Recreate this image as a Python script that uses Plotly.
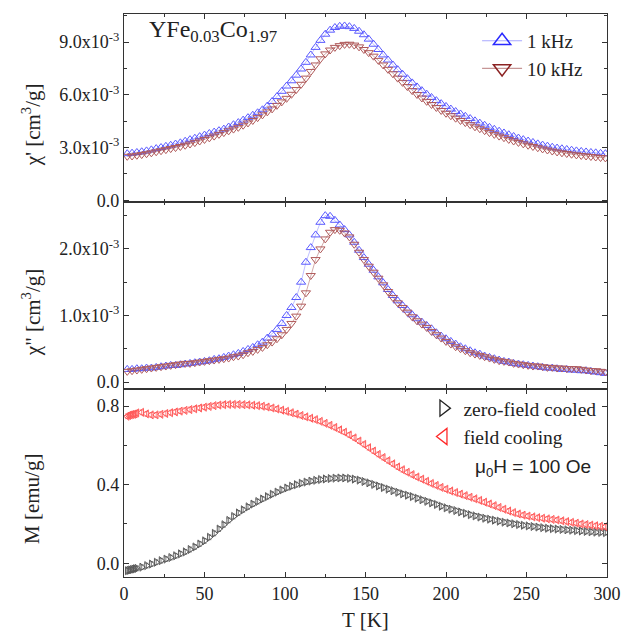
import plotly.graph_objects as go

# ---------------- data ----------------
T_ac = list(range(2, 300, 3))  # temperature grid for AC susceptibility (K)

chi1_1k = [2.65, 2.68, 2.72, 2.76, 2.81, 2.87, 2.94, 3.00, 3.07, 3.13,
           3.20, 3.27, 3.36, 3.45, 3.53, 3.62, 3.71, 3.80, 3.88, 3.96,
           4.05, 4.17, 4.30, 4.42, 4.56, 4.70, 4.84, 4.98, 5.15, 5.36,
           5.62, 5.90, 6.20, 6.50, 6.80, 7.12, 7.47, 7.85, 8.27, 8.70,
           9.10, 9.45, 9.68, 9.83, 9.90, 9.92, 9.88, 9.78, 9.62, 9.42,
           9.17, 8.88, 8.58, 8.27, 7.98, 7.70, 7.43, 7.17, 6.92, 6.68,
           6.45, 6.24, 6.04, 5.85, 5.67, 5.50, 5.34, 5.19, 5.05, 4.91,
           4.78, 4.65, 4.52, 4.39, 4.27, 4.15, 4.04, 3.93, 3.83, 3.73,
           3.63, 3.54, 3.45, 3.37, 3.29, 3.21, 3.14, 3.08, 3.02, 2.97,
           2.93, 2.89, 2.85, 2.81, 2.78, 2.75, 2.72, 2.70, 2.67, 2.65]

chi1_10k = [2.50, 2.52, 2.56, 2.60, 2.65, 2.70, 2.76, 2.82, 2.88, 2.94,
            3.00, 3.06, 3.13, 3.20, 3.28, 3.37, 3.46, 3.55, 3.65, 3.75,
            3.85, 3.95, 4.05, 4.15, 4.27, 4.40, 4.54, 4.70, 4.86, 5.03,
            5.20, 5.40, 5.60, 5.80, 6.03, 6.30, 6.60, 6.95, 7.33, 7.70,
            8.05, 8.33, 8.55, 8.70, 8.80, 8.87, 8.88, 8.83, 8.73, 8.58,
            8.40, 8.20, 7.96, 7.70, 7.45, 7.20, 6.95, 6.71, 6.47, 6.24,
            6.02, 5.82, 5.63, 5.45, 5.28, 5.11, 4.95, 4.81, 4.67, 4.54,
            4.42, 4.30, 4.18, 4.07, 3.96, 3.85, 3.75, 3.65, 3.56, 3.46,
            3.37, 3.29, 3.21, 3.13, 3.06, 2.99, 2.92, 2.86, 2.80, 2.75,
            2.70, 2.66, 2.62, 2.58, 2.55, 2.52, 2.49, 2.46, 2.43, 2.41]

chi2_1k = [0.19, 0.19, 0.20, 0.20, 0.21, 0.21, 0.22, 0.23, 0.24, 0.25,
           0.25, 0.26, 0.27, 0.28, 0.29, 0.30, 0.31, 0.32, 0.34, 0.35,
           0.37, 0.39, 0.41, 0.43, 0.46, 0.49, 0.52, 0.56, 0.60, 0.66,
           0.72, 0.79, 0.88, 1.00, 1.12, 1.27, 1.50, 1.80, 2.02, 2.21,
           2.40, 2.50, 2.49, 2.43, 2.36, 2.29, 2.21, 2.10, 1.98, 1.87,
           1.77, 1.68, 1.58, 1.49, 1.39, 1.30, 1.22, 1.15, 1.08, 1.01,
           0.95, 0.90, 0.85, 0.80, 0.74, 0.69, 0.65, 0.61, 0.57, 0.53,
           0.50, 0.47, 0.44, 0.42, 0.39, 0.37, 0.35, 0.33, 0.31, 0.30,
           0.28, 0.27, 0.26, 0.25, 0.24, 0.23, 0.22, 0.21, 0.21, 0.20,
           0.19, 0.19, 0.18, 0.18, 0.17, 0.17, 0.16, 0.15, 0.14, 0.13]

chi2_10k = [0.16, 0.17, 0.18, 0.19, 0.20, 0.21, 0.22, 0.23, 0.24, 0.25,
            0.26, 0.27, 0.28, 0.28, 0.29, 0.30, 0.31, 0.32, 0.33, 0.34,
            0.35, 0.36, 0.38, 0.39, 0.41, 0.44, 0.46, 0.49, 0.52, 0.56,
            0.60, 0.65, 0.71, 0.79, 0.88, 0.99, 1.14, 1.34, 1.60, 1.84,
            2.00, 2.15, 2.25, 2.29, 2.28, 2.24, 2.18, 2.07, 1.95, 1.84,
            1.74, 1.65, 1.56, 1.46, 1.36, 1.27, 1.19, 1.12, 1.05, 0.98,
            0.92, 0.87, 0.82, 0.76, 0.71, 0.66, 0.61, 0.57, 0.53, 0.50,
            0.47, 0.44, 0.42, 0.40, 0.38, 0.36, 0.34, 0.32, 0.31, 0.30,
            0.28, 0.27, 0.26, 0.25, 0.24, 0.24, 0.23, 0.22, 0.22, 0.21,
            0.21, 0.20, 0.20, 0.20, 0.19, 0.18, 0.17, 0.17, 0.16, 0.15]

T_m = [2, 3, 4, 5, 6, 7, 8] + list(range(11, 300, 3))

M_fc = [0.748, 0.752, 0.755, 0.757, 0.758, 0.760, 0.765,
        0.768, 0.760, 0.755, 0.755, 0.758, 0.762, 0.766, 0.770, 0.774, 0.778,
        0.782, 0.786, 0.790, 0.794, 0.798, 0.802, 0.805, 0.807, 0.808, 0.808,
        0.808, 0.807, 0.806, 0.804, 0.802, 0.799, 0.795, 0.790, 0.785, 0.779,
        0.773, 0.766, 0.759, 0.752, 0.745, 0.738, 0.731, 0.722, 0.712, 0.702,
        0.691, 0.679, 0.667, 0.653, 0.638, 0.622, 0.605, 0.588, 0.571, 0.554,
        0.538, 0.522, 0.506, 0.490, 0.476, 0.463, 0.451, 0.439, 0.428, 0.417,
        0.406, 0.396, 0.386, 0.377, 0.368, 0.360, 0.352, 0.344, 0.336, 0.328,
        0.320, 0.311, 0.302, 0.293, 0.284, 0.275, 0.266, 0.258, 0.251, 0.245,
        0.240, 0.236, 0.232, 0.229, 0.226, 0.223, 0.220, 0.216, 0.212, 0.208,
        0.204, 0.200, 0.197, 0.194, 0.191, 0.188, 0.186]

M_zfc = [-0.038, -0.036, -0.034, -0.032, -0.030, -0.028, -0.026,
         -0.020, -0.012, -0.004, 0.005, 0.013, 0.021, 0.029, 0.038, 0.048, 0.058,
         0.070, 0.083, 0.098, 0.114, 0.132, 0.152, 0.174, 0.196, 0.218, 0.238,
         0.256, 0.272, 0.287, 0.301, 0.314, 0.327, 0.339, 0.351, 0.362, 0.373,
         0.383, 0.392, 0.400, 0.407, 0.413, 0.418, 0.422, 0.426, 0.429, 0.431,
         0.433, 0.434, 0.434, 0.432, 0.428, 0.423, 0.416, 0.409, 0.401, 0.393,
         0.385, 0.377, 0.369, 0.361, 0.353, 0.346, 0.339, 0.331, 0.323, 0.315,
         0.307, 0.299, 0.290, 0.282, 0.275, 0.268, 0.261, 0.254, 0.247, 0.241,
         0.235, 0.229, 0.224, 0.219, 0.214, 0.209, 0.205, 0.201, 0.197, 0.193,
         0.190, 0.187, 0.184, 0.181, 0.178, 0.176, 0.174, 0.172, 0.170, 0.168,
         0.166, 0.164, 0.162, 0.160, 0.158, 0.157, 0.156]

M_err = 0.012

# ---------------- styling ----------------
SERIF = "Liberation Serif"
SANS = "Liberation Sans"
AX = "#333333"

BLUE = "#5a5aff"
BLUE_LINE = "rgba(110,110,255,0.55)"
BROWN = "#b05a5a"
BROWN_LINE = "rgba(150,60,60,0.55)"
RED = "#ff5a5a"
GRAY = "#5a5a5a"

fig = go.Figure()

# panel 1: chi'
fig.add_trace(go.Scatter(x=T_ac, y=chi1_1k, mode="lines+markers", xaxis="x3", yaxis="y3",
                         showlegend=False,
                         line=dict(color=BLUE_LINE, width=0.8),
                         marker=dict(symbol="triangle-up-open", size=8, color=BLUE,
                                     line=dict(width=1, color=BLUE))))
fig.add_trace(go.Scatter(x=T_ac, y=chi1_10k, mode="lines+markers", xaxis="x3", yaxis="y3",
                         showlegend=False,
                         line=dict(color=BROWN_LINE, width=0.8),
                         marker=dict(symbol="triangle-down-open", size=8, color=BROWN,
                                     line=dict(width=1, color=BROWN))))
# panel 2: chi''
fig.add_trace(go.Scatter(x=T_ac, y=chi2_1k, mode="lines+markers", xaxis="x2", yaxis="y2",
                         showlegend=False,
                         line=dict(color=BLUE_LINE, width=0.8),
                         marker=dict(symbol="triangle-up-open", size=8, color=BLUE,
                                     line=dict(width=1, color=BLUE))))
fig.add_trace(go.Scatter(x=T_ac, y=chi2_10k, mode="lines+markers", xaxis="x2", yaxis="y2",
                         showlegend=False,
                         line=dict(color=BROWN_LINE, width=0.8),
                         marker=dict(symbol="triangle-down-open", size=8, color=BROWN,
                                     line=dict(width=1, color=BROWN))))
# panel 3: M
fig.add_trace(go.Scatter(x=T_m, y=M_zfc, mode="markers", xaxis="x", yaxis="y",
                         showlegend=False,
                         error_y=dict(type="constant", value=M_err, color=GRAY, thickness=0.8, width=2),
                         marker=dict(symbol="triangle-right-open", size=7, color=GRAY,
                                     line=dict(width=1, color=GRAY))))
fig.add_trace(go.Scatter(x=T_m, y=M_fc, mode="markers", xaxis="x", yaxis="y",
                         showlegend=False,
                         error_y=dict(type="constant", value=M_err, color=RED, thickness=0.8, width=2),
                         marker=dict(symbol="triangle-left-open", size=7, color=RED,
                                     line=dict(width=1, color=RED))))

# legend entries
fig.add_trace(go.Scatter(x=[None], y=[None], mode="lines+markers", name="1 kHz", legend="legend",
                         xaxis="x3", yaxis="y3",
                         line=dict(color="rgba(110,110,255,0.6)", width=1.2),
                         marker=dict(symbol="triangle-up-open", size=15, color="#2a2aff",
                                     line=dict(width=1.5, color="#2a2aff"))))
fig.add_trace(go.Scatter(x=[None], y=[None], mode="lines+markers", name="10 kHz", legend="legend",
                         xaxis="x3", yaxis="y3",
                         line=dict(color="rgba(160,80,80,0.6)", width=1.2),
                         marker=dict(symbol="triangle-down-open", size=15, color="#8b2222",
                                     line=dict(width=1.5, color="#8b2222"))))
fig.add_trace(go.Scatter(x=[None], y=[None], mode="markers", name="zero-field cooled", legend="legend2",
                         marker=dict(symbol="triangle-right-open", size=14, color="#222222",
                                     line=dict(width=1.3, color="#222222"))))
fig.add_trace(go.Scatter(x=[None], y=[None], mode="markers", name="field cooling", legend="legend2",
                         marker=dict(symbol="triangle-left-open", size=14, color="#ff2a2a",
                                     line=dict(width=1.3, color="#ff2a2a"))))

TICKFONT = dict(family=SERIF, size=18, color="#222")


def xax(domain_anchor, labels):
    return dict(range=[0, 300], dtick=50, tick0=0, ticks="inside", ticklen=5, tickwidth=1.2,
                tickcolor=AX, showline=True, linecolor=AX, linewidth=1.2, mirror="ticks",
                showgrid=False, zeroline=False, showticklabels=labels, anchor=domain_anchor,
                tickfont=TICKFONT,
                minor=dict(dtick=25, tick0=0, ticks="inside", ticklen=3, tickcolor=AX, tickwidth=1))


def yax(domain, rng, tv, tt, minor_dt, anchor):
    return dict(domain=domain, range=rng, tickmode="array", tickvals=tv, ticktext=tt,
                ticks="inside", ticklen=5, tickwidth=1.2, tickcolor=AX, showline=True,
                linecolor=AX, linewidth=1.2, mirror="ticks", showgrid=False, zeroline=False,
                anchor=anchor, tickfont=TICKFONT,
                minor=dict(dtick=minor_dt, tick0=0, ticks="inside", ticklen=3, tickcolor=AX,
                           tickwidth=1))


y1_vals = [0, 3, 6, 9]
y1_text = ["0.0", "3.0x10<sup>-3</sup>", "6.0x10<sup>-3</sup>", "9.0x10<sup>-3</sup>"]
y2_vals = [0, 1, 2]
y2_text = ["0.0", "1.0x10<sup>-3</sup>", "2.0x10<sup>-3</sup>"]
y3_vals = [0, 0.4, 0.8]
y3_text = ["0.0", "0.4", "0.8"]

fig.update_layout(
    width=633, height=636,
    margin=dict(l=124, r=15, t=14, b=59),
    paper_bgcolor="white", plot_bgcolor="white",
    font=dict(family=SERIF, color="#222"),
    xaxis=xax("y", True),
    xaxis2=xax("y2", False),
    xaxis3=xax("y3", False),
    yaxis=yax([0, 1/3], [-0.07, 0.885], y3_vals, y3_text, 0.2, "x"),
    yaxis2=yax([1/3, 2/3], [-0.11, 2.71], y2_vals, y2_text, 0.5, "x2"),
    yaxis3=yax([2/3, 1], [-0.08, 10.6], y1_vals, y1_text, 1.5, "x3"),
    legend=dict(x=0.731, y=0.986, xanchor="left", yanchor="top", bgcolor="rgba(0,0,0,0)",
                font=dict(family=SERIF, size=19, color="#222"), tracegroupgap=0,
                itemwidth=40),
    legend2=dict(x=0.62, y=0.334, xanchor="left", yanchor="top", bgcolor="rgba(0,0,0,0)",
                 font=dict(family=SERIF, size=19.5, color="#222"), tracegroupgap=0,
                 itemwidth=30),
    annotations=[
        dict(text="YFe<sub>0.03</sub>Co<sub>1.97</sub>", x=0.047, y=0.97, xref="paper",
             yref="paper", xanchor="left", yanchor="middle", showarrow=False,
             font=dict(family=SERIF, size=24, color="#222")),
        dict(text="\u03bc<sub>0</sub>H = 100 Oe", x=0.722, y=0.193, xref="paper", yref="paper",
             xanchor="left", yanchor="middle", showarrow=False,
             font=dict(family=SANS, size=19, color="#222")),
        dict(text="\u03c7' [cm<sup>3</sup>/g]", x=-0.19, y=0.803, xref="paper", yref="paper",
             textangle=-90, xanchor="center", yanchor="middle", showarrow=False,
             font=dict(family=SERIF, size=21, color="#222")),
        dict(text="\u03c7\" [cm<sup>3</sup>/g]", x=-0.19, y=0.469, xref="paper", yref="paper",
             textangle=-90, xanchor="center", yanchor="middle", showarrow=False,
             font=dict(family=SERIF, size=21, color="#222")),
        dict(text="M [emu/g]", x=-0.19, y=0.139, xref="paper", yref="paper",
             textangle=-90, xanchor="center", yanchor="middle", showarrow=False,
             font=dict(family=SERIF, size=21, color="#222")),
        dict(text="T [K]", x=0.5, y=-0.076, xref="paper", yref="paper",
             xanchor="center", yanchor="middle", showarrow=False,
             font=dict(family=SERIF, size=21, color="#222")),
    ],
)

fig.write_html("out.html", config={"displayModeBar": False},
               post_script="document.body.style.margin='0';document.body.style.overflow='hidden';")
